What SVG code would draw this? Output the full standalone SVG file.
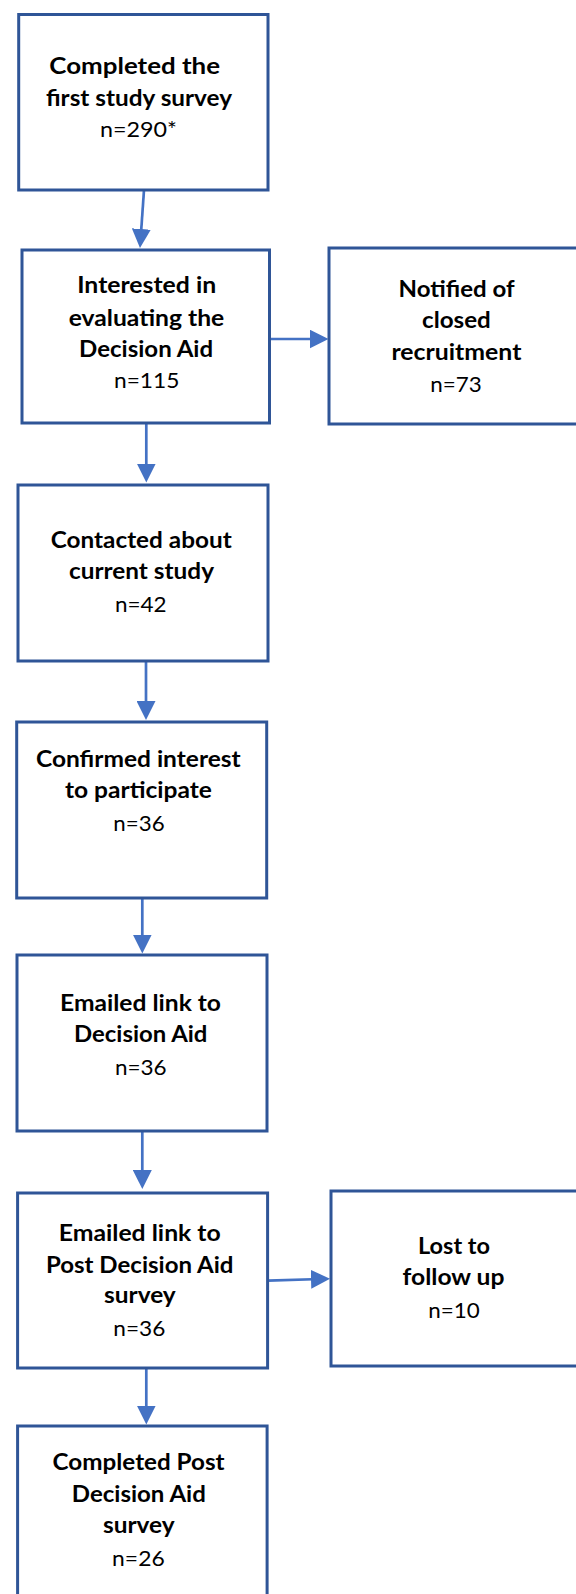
<svg xmlns="http://www.w3.org/2000/svg" width="576" height="1594" viewBox="0 0 576 1594">
<style>
.box{fill:#ffffff;stroke:#2F5597;stroke-width:3}
.conn{stroke:#4472C4;stroke-width:2.7;fill:none}
text{font-family:Lato,"Open Sans","Liberation Sans",sans-serif;font-size:22px;fill:#000000;text-anchor:middle}
.b{font-weight:bold}
</style>
<defs>
<marker id="ah" viewBox="0 0 19 19" markerWidth="19" markerHeight="19" markerUnits="userSpaceOnUse" refX="10" refY="9.5" orient="auto">
<path d="M0,0 L19,9.5 L0,19 z" fill="#4472C4"/>
</marker>
</defs>
<rect width="576" height="1594" fill="#ffffff"/>
<g id="connectors">
<path class="conn" d="M144,190 L140.6,239" marker-end="url(#ah)"/>
<path class="conn" d="M270,339 L319.5,339" marker-end="url(#ah)"/>
<path class="conn" d="M146.3,423 L146.3,473.5" marker-end="url(#ah)"/>
<path class="conn" d="M146,661 L146,711" marker-end="url(#ah)"/>
<path class="conn" d="M142.3,898 L142.3,944.5" marker-end="url(#ah)"/>
<path class="conn" d="M142.3,1131 L142.3,1180" marker-end="url(#ah)"/>
<path class="conn" d="M146.3,1368 L146.3,1415.5" marker-end="url(#ah)"/>
<path class="conn" d="M268,1280.7 L321,1279" marker-end="url(#ah)"/>
</g>
<g id="n1">
<rect class="box" x="18.7" y="14.5" width="249.3" height="175.5"/>
<text class="b" x="134.7" y="74" textLength="170.7" lengthAdjust="spacingAndGlyphs">Completed the</text>
<text class="b" x="139" y="106" textLength="186" lengthAdjust="spacingAndGlyphs">first study survey</text>
<text x="138.5" y="137" textLength="77" lengthAdjust="spacingAndGlyphs">n=290*</text>
</g>
<g id="n2">
<rect class="box" x="22" y="250" width="247.5" height="173"/>
<text class="b" x="146.7" y="293" textLength="139" lengthAdjust="spacingAndGlyphs">Interested in</text>
<text class="b" x="146.5" y="326" textLength="155.5" lengthAdjust="spacingAndGlyphs">evaluating the</text>
<text class="b" x="146.1" y="357" textLength="134" lengthAdjust="spacingAndGlyphs">Decision Aid</text>
<text x="146.7" y="388" textLength="65.4" lengthAdjust="spacingAndGlyphs">n=115</text>
</g>
<g id="n3">
<rect class="box" x="329" y="248" width="260" height="176"/>
<text class="b" x="456.6" y="297" textLength="116" lengthAdjust="spacingAndGlyphs">Notified of</text>
<text class="b" x="456.4" y="328" textLength="68.8" lengthAdjust="spacingAndGlyphs">closed</text>
<text class="b" x="456.4" y="360" textLength="130" lengthAdjust="spacingAndGlyphs">recruitment</text>
<text x="456" y="392" textLength="51.5" lengthAdjust="spacingAndGlyphs">n=73</text>
</g>
<g id="n4">
<rect class="box" x="18" y="485" width="250" height="176"/>
<text class="b" x="141.2" y="548" textLength="181" lengthAdjust="spacingAndGlyphs">Contacted about</text>
<text class="b" x="141.5" y="579" textLength="145" lengthAdjust="spacingAndGlyphs">current study</text>
<text x="140.8" y="612" textLength="51.7" lengthAdjust="spacingAndGlyphs">n=42</text>
</g>
<g id="n5">
<rect class="box" x="16.7" y="722" width="250" height="176"/>
<text class="b" x="138.3" y="767" textLength="204.7" lengthAdjust="spacingAndGlyphs">Confirmed interest</text>
<text class="b" x="138.5" y="798" textLength="147" lengthAdjust="spacingAndGlyphs">to participate</text>
<text x="139" y="831" textLength="51.3" lengthAdjust="spacingAndGlyphs">n=36</text>
</g>
<g id="n6">
<rect class="box" x="17" y="955" width="250" height="176"/>
<text class="b" x="140.5" y="1011" textLength="161" lengthAdjust="spacingAndGlyphs">Emailed link to</text>
<text class="b" x="140.7" y="1042" textLength="133.3" lengthAdjust="spacingAndGlyphs">Decision Aid</text>
<text x="140.8" y="1075" textLength="51.7" lengthAdjust="spacingAndGlyphs">n=36</text>
</g>
<g id="n7">
<rect class="box" x="17.6" y="1193" width="250" height="175"/>
<text class="b" x="139.7" y="1241" textLength="162" lengthAdjust="spacingAndGlyphs">Emailed link to</text>
<text class="b" x="139.7" y="1273" textLength="187.5" lengthAdjust="spacingAndGlyphs">Post Decision Aid</text>
<text class="b" x="139.9" y="1303" textLength="71.7" lengthAdjust="spacingAndGlyphs">survey</text>
<text x="139.3" y="1336" textLength="52" lengthAdjust="spacingAndGlyphs">n=36</text>
</g>
<g id="n8">
<rect class="box" x="331" y="1191" width="260" height="175"/>
<text class="b" x="454" y="1254" textLength="72" lengthAdjust="spacingAndGlyphs">Lost to</text>
<text class="b" x="453.5" y="1285" textLength="102" lengthAdjust="spacingAndGlyphs">follow up</text>
<text x="454" y="1318" textLength="51.5" lengthAdjust="spacingAndGlyphs">n=10</text>
</g>
<g id="n9">
<rect class="box" x="17.6" y="1426" width="249.5" height="200"/>
<text class="b" x="138.6" y="1470" textLength="172" lengthAdjust="spacingAndGlyphs">Completed Post</text>
<text class="b" x="138.8" y="1502" textLength="134" lengthAdjust="spacingAndGlyphs">Decision Aid</text>
<text class="b" x="138.8" y="1533" textLength="71.7" lengthAdjust="spacingAndGlyphs">survey</text>
<text x="138.4" y="1566" textLength="52.6" lengthAdjust="spacingAndGlyphs">n=26</text>
</g>
</svg>
